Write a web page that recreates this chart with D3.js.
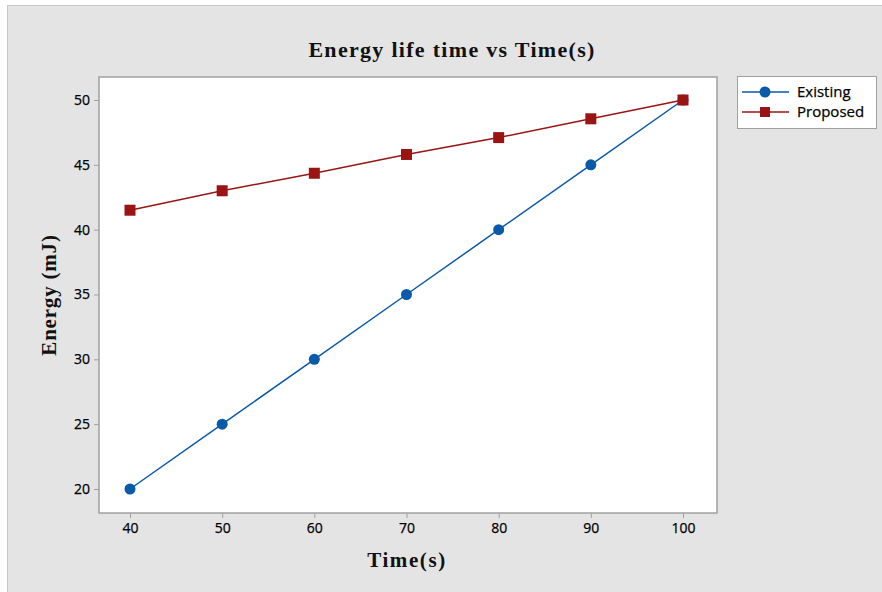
<!DOCTYPE html>
<html><head><meta charset="utf-8">
<script src="https://cdn.jsdelivr.net/npm/d3@7"></script>
<style>body{margin:0;background:#fff}</style>
</head><body>
<script>
const times = [40, 50, 60, 70, 80, 90, 100];
const existing = [20, 25, 30, 35, 40, 45, 50];
const proposed = [41.5, 43.0, 44.35, 45.8, 47.1, 48.55, 50];
const yTicks = [20, 25, 30, 35, 40, 45, 50];
const xTicks = [40, 50, 60, 70, 80, 90, 100];
const seriesNames = ["Existing", "Proposed"];

const W = 882, H = 592;
const svg = d3.select("body").append("svg").attr("width", W).attr("height", H);
svg.append("rect").attr("x", 0).attr("y", 0).attr("width", W).attr("height", H).attr("fill", "#fff");
svg.append("rect").attr("x", 7.5).attr("y", 5.5).attr("width", W - 7).attr("height", H - 5).attr("fill", "#e4e4e4").attr("stroke", "#c8c8c8");

const pL = 99, pT = 77, pR = 717, pB = 513;
const x = d3.scaleLinear().domain([40, 100]).range([130, 683]);
const y = d3.scaleLinear().domain([20, 50]).range([489, 100]);

svg.append("rect").attr("x", pL).attr("y", pT).attr("width", pR - pL).attr("height", pB - pT)
  .attr("fill", "#fff").attr("stroke", "#a0a0a0").attr("stroke-width", 1.5);

const font = "'Open Sans', 'Noto Sans', sans-serif";
const yAxis = svg.append("g").attr("transform", `translate(${pL},0)`)
  .call(d3.axisLeft(y).tickValues(yTicks).tickSize(5).tickPadding(4));
const xAxis = svg.append("g").attr("transform", `translate(0,${pB})`)
  .call(d3.axisBottom(x).tickValues(xTicks).tickSize(5).tickPadding(5));
[yAxis, xAxis].forEach(a => {
  a.select(".domain").remove();
  a.selectAll(".tick line").attr("stroke", "#a0a0a0");
  a.selectAll(".tick text").attr("fill", "#000").style("font-family", font).style("font-size", "14px")
    .attr("stroke", "#000").attr("stroke-width", 0.25);
});

const blue = "#0a5aaa", red = "#9b1414";
const line = d3.line().x(d => x(d[0])).y(d => y(d[1]));
const dE = times.map((t, i) => [t, existing[i]]);
const dP = times.map((t, i) => [t, proposed[i]]);

svg.append("path").datum(dE).attr("d", line).attr("fill", "none").attr("stroke", blue).attr("stroke-width", 1.5);
svg.selectAll(".ce").data(dE).enter().append("circle")
  .attr("cx", d => x(d[0])).attr("cy", d => y(d[1])).attr("r", 5.5).attr("fill", blue);
svg.append("path").datum(dP).attr("d", line).attr("fill", "none").attr("stroke", red).attr("stroke-width", 1.5);
svg.selectAll(".sp").data(dP).enter().append("rect")
  .attr("x", d => x(d[0]) - 5.5).attr("y", d => y(d[1]) - 5.5).attr("width", 11).attr("height", 11).attr("fill", red);

// Title and axis titles
const serif = "'Liberation Serif', 'DejaVu Serif', serif";
svg.append("text").attr("x", 452).attr("y", 57).attr("text-anchor", "middle")
  .style("font-family", serif).style("font-weight", "bold").style("font-size", "22px").style("letter-spacing", "1.3px").attr("fill", "#111")
  .text("Energy life time vs Time(s)");
svg.append("text").attr("x", 407).attr("y", 567).attr("text-anchor", "middle")
  .style("font-family", serif).style("font-weight", "bold").style("font-size", "21px").style("letter-spacing", "1.6px").attr("fill", "#111")
  .text("Time(s)");
svg.append("text").attr("transform", "translate(56,295) rotate(-90)").attr("text-anchor", "middle")
  .style("font-family", serif).style("font-weight", "bold").style("font-size", "21px").style("letter-spacing", "0.8px").attr("fill", "#111")
  .text("Energy (mJ)");

// Legend
const lg = svg.append("g");
lg.append("rect").attr("x", 737.5).attr("y", 76.5).attr("width", 139).attr("height", 52).attr("fill", "#fff").attr("stroke", "#a0a0a0");
const colors = [blue, red];
seriesNames.forEach((n, i) => {
  const yy = 92 + i * 20;
  lg.append("line").attr("x1", 742).attr("x2", 789).attr("y1", yy).attr("y2", yy).attr("stroke", colors[i]).attr("stroke-width", 1.5);
  if (i === 0) lg.append("circle").attr("cx", 765).attr("cy", yy).attr("r", 5.5).attr("fill", colors[i]);
  else lg.append("rect").attr("x", 760).attr("y", yy - 5).attr("width", 10).attr("height", 10).attr("fill", colors[i]);
  lg.append("text").attr("x", 797).attr("y", yy + 5).style("font-family", font).style("font-size", "15px").attr("fill", "#000")
    .attr("stroke", "#000").attr("stroke-width", 0.25).text(n);
});
</script>
</body></html>
